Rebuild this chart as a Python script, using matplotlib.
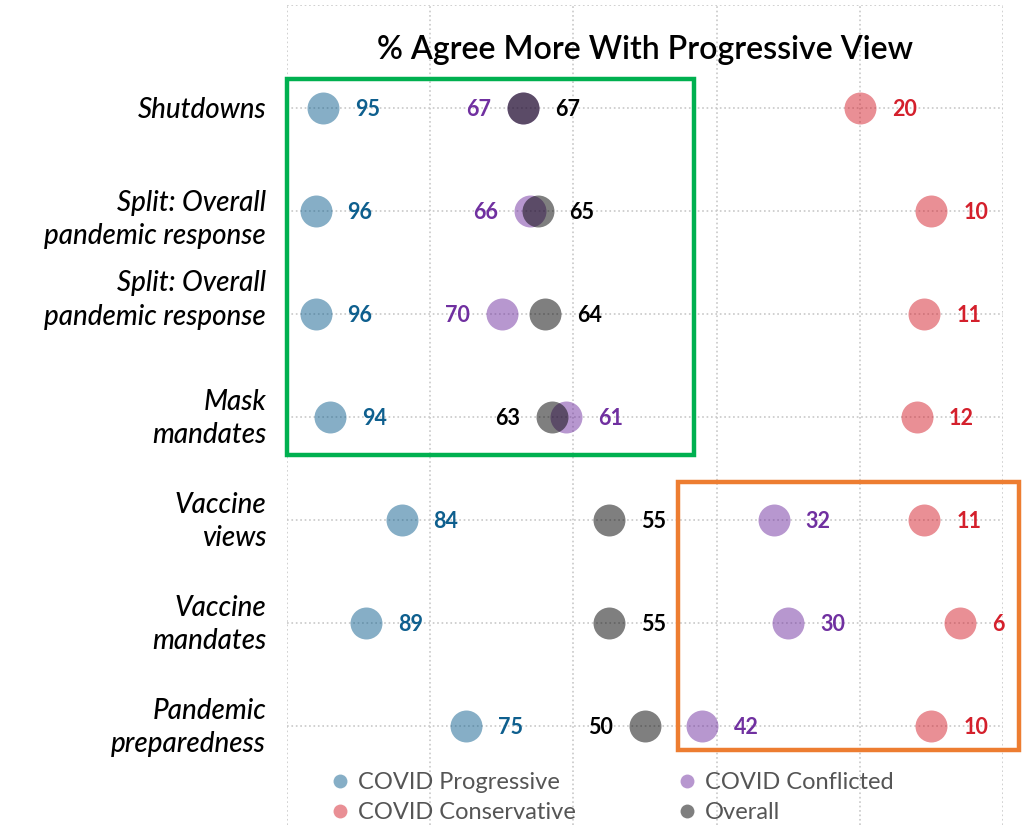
import numpy as np
import matplotlib
matplotlib.use('Agg')
import matplotlib.pyplot as plt
from matplotlib.lines import Line2D
from matplotlib.patches import Rectangle

categories = ['Shutdowns',
              'Split: Overall\npandemic response',
              'Split: Overall\npandemic response',
              'Mask\nmandates',
              'Vaccine\nviews',
              'Vaccine\nmandates',
              'Pandemic\npreparedness']
progressive = [95, 96, 96, 94, 84, 89, 75]
conflicted = [67, 66, 70, 61, 32, 30, 42]
overall = [67, 65, 64, 63, 55, 55, 50]
conservative = [20, 10, 11, 12, 11, 6, 10]
legend_names = ['COVID Progressive', 'COVID Conservative', 'COVID Conflicted', 'Overall']
title = '% Agree More With Progressive View'

BLUE = '#0e5f8e'
PURPLE = '#7030a0'
RED = '#d4202c'
BLACK = '#000000'
FONT = 'Lato'

fig = plt.figure(figsize=(10.3, 8.25), dpi=100)
ax = fig.add_axes([287 / 1030, 0, 716 / 1030, 820 / 825])
rows = np.arange(len(categories))

ax.set_xlim(100, 0)
ax.set_ylim(6.96, -1)
ax.set_xticks(np.arange(0, 101, 20))
ax.set_yticks(np.arange(-1, len(categories)))
ax.tick_params(length=0, labelbottom=False, labelleft=False)
ax.grid(True, ls=':', color='#c8c8c8', lw=1.2)
ax.set_axisbelow(True)
for s in ax.spines.values():
    s.set_visible(False)

# dots: label colour at half opacity, overall drawn last
for vals, col in [(progressive, BLUE), (conservative, RED), (conflicted, PURPLE), (overall, BLACK)]:
    ax.scatter(vals, rows, s=530, color=col, alpha=0.5, linewidths=0, zorder=3)


def num_label(x, y, txt, color, side):
    off = 23 if side == 'r' else -23
    ax.annotate(txt, (x, y), xytext=(off, -1), textcoords='offset points',
                ha='left' if side == 'r' else 'right', va='center',
                color=color, fontsize=15.5, fontweight='bold', family=FONT, zorder=4)


for i in rows:
    num_label(progressive[i], i, str(progressive[i]), BLUE, 'r')
    num_label(conservative[i], i, str(conservative[i]), RED, 'r')
    c, o = conflicted[i], overall[i]
    if abs(c - o) < 15:
        c_side, o_side = ('l', 'r') if c >= o else ('r', 'l')
    else:
        c_side = o_side = 'r'
    num_label(c, i, str(c), PURPLE, c_side)
    num_label(o, i, str(o), BLACK, o_side)

# category labels (the two "Split" rows are nudged apart)
label_shift = {1: -6, 2: 10}
for i, cat in enumerate(categories):
    ax.annotate(cat, xy=(0, i), xycoords=('axes fraction', 'data'),
                xytext=(-15, label_shift.get(i, -1.2)), textcoords='offset points',
                ha='right', va='center', fontsize=20, style='italic',
                fontweight='medium', family=FONT, linespacing=1.35)

ax.text(50, -0.563, title, ha='center', va='center', fontsize=23,
        family=FONT, fontweight='semibold')

# highlight boxes
ax.add_patch(Rectangle((100, -0.277), -56.8, 3.647, fill=False,
                       edgecolor='#00b050', lw=3.2, clip_on=False, zorder=5))
ax.add_patch(Rectangle((45.4, 3.63), -47.6, 2.6, fill=False,
                       edgecolor='#ed7d31', lw=3.2, clip_on=False, zorder=5))

handles = [Line2D([], [], ls='none', marker='o', ms=10, mfc=c, mec='none', alpha=0.5)
           for c in [BLUE, RED, PURPLE, BLACK]]
leg = ax.legend(handles, legend_names, ncol=2, loc='upper left',
                bbox_to_anchor=(332 / 1030, 1 - 772 / 825), bbox_transform=fig.transFigure,
                frameon=False, prop={'family': FONT, 'size': 17},
                handlelength=0.7, handletextpad=0.4, columnspacing=4.35,
                labelspacing=0.38, borderaxespad=0, borderpad=0)
for t in leg.get_texts():
    t.set_color('#555555')

fig.savefig('out.png', dpi=100)
